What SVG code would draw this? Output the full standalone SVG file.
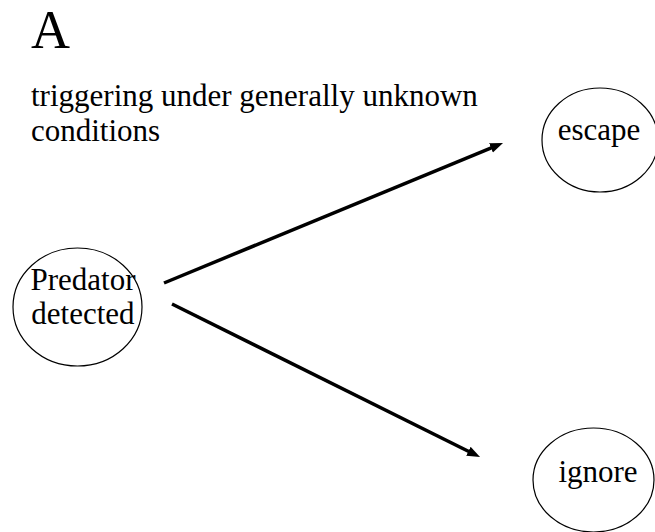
<svg xmlns="http://www.w3.org/2000/svg" width="655" height="532" viewBox="0 0 655 532">
<style>
text{font-family:"Liberation Serif","Times New Roman",serif;fill:#000}
.lbl{font-size:31px}
.node ellipse{fill:none;stroke:#000;stroke-width:1.2}
.conn line{stroke:#000;stroke-width:3.5}
</style>
<defs>
<marker id="ah" markerUnits="userSpaceOnUse" markerWidth="14" markerHeight="11" refX="1" refY="5" orient="auto">
<path d="M0,0 L13,5 L0,10 z" fill="#000"/>
</marker>
</defs>
<rect width="655" height="532" fill="#fff"/>
<text x="31" y="48" font-size="54">A</text>
<text class="lbl" x="31" y="106">triggering under generally unknown</text>
<text class="lbl" x="31" y="141">conditions</text>
<g id="predator" class="node">
<ellipse cx="77.5" cy="307" rx="64.5" ry="59"/>
<text class="lbl" x="83" y="290" text-anchor="middle">Predator</text>
<text class="lbl" x="83" y="324" text-anchor="middle">detected</text>
</g>
<g id="escape" class="node">
<ellipse cx="600" cy="140" rx="58" ry="52"/>
<text class="lbl" x="599" y="140" text-anchor="middle">escape</text>
</g>
<g id="ignore" class="node">
<ellipse cx="593.5" cy="480" rx="60.5" ry="52"/>
<text class="lbl" x="598" y="482" text-anchor="middle">ignore</text>
</g>
<g id="connectors" class="conn">
<line x1="164" y1="283" x2="491.9" y2="147.6" marker-end="url(#ah)"/>
<line x1="172" y1="304" x2="469.3" y2="451.7" marker-end="url(#ah)"/>
</g>
</svg>
